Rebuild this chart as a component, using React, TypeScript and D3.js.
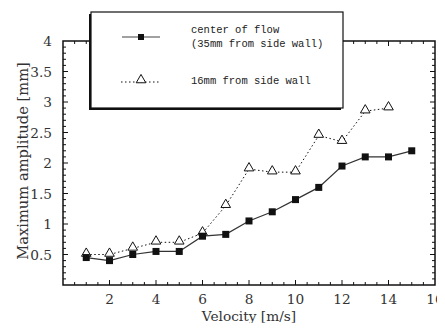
import React, { useEffect, useRef } from 'react';
import * as d3 from 'd3';

// velocity [m/s]
const velocityCenter = [1, 2, 3, 4, 5, 6, 7, 8, 9, 10, 11, 12, 13, 14, 15];
const ampCenter = [0.45, 0.4, 0.5, 0.55, 0.55, 0.8, 0.83, 1.05, 1.2, 1.4, 1.6, 1.95, 2.1, 2.1, 2.2];
const velocityWall = [1, 2, 3, 4, 5, 6, 7, 8, 9, 10, 11, 12, 13, 14];
const ampWall = [0.5, 0.5, 0.6, 0.7, 0.7, 0.85, 1.3, 1.9, 1.85, 1.85, 2.45, 2.35, 2.85, 2.9];

const xTicks = [2, 4, 6, 8, 10, 12, 14, 16];
const yTicks = [0.5, 1, 1.5, 2, 2.5, 3, 3.5, 4];
const legendLabels = ['center of flow', '(35mm from side wall)', '16mm from side wall'];

const App = () => {
  const svgRef = useRef(null);

  useEffect(() => {
    const svg = d3.select(svgRef.current);
    svg.selectAll('*').remove();

    const left = 63, right = 435, top = 41, bottom = 285;
    const x = d3.scaleLinear().domain([0, 16]).range([left, right]);
    const y = d3.scaleLinear().domain([0, 4]).range([bottom, top]);
    const serif = '"DejaVu Serif", "Liberation Serif", serif';
    const mono = '"Liberation Mono", "DejaVu Sans Mono", monospace';

    svg.append('rect').attr('width', 445).attr('height', 331).attr('fill', '#fff');

    // frame
    svg.append('rect')
      .attr('x', left).attr('y', top)
      .attr('width', right - left).attr('height', bottom - top)
      .attr('fill', 'none').attr('stroke', '#111').attr('stroke-width', 1.5);

    // ticks point inward on all four sides
    const g = svg.append('g').attr('stroke', '#111').attr('stroke-width', 1);
    d3.range(0.5, 16, 0.5).forEach(v => {
      const len = v % 2 === 0 ? 5 : 3;
      g.append('line').attr('x1', x(v)).attr('x2', x(v)).attr('y1', bottom).attr('y2', bottom - len);
      g.append('line').attr('x1', x(v)).attr('x2', x(v)).attr('y1', top).attr('y2', top + len);
    });
    d3.range(1, 40).forEach(i => {
      const v = i / 10;
      const len = i % 5 === 0 ? 5 : 3;
      g.append('line').attr('x1', left).attr('x2', left + len).attr('y1', y(v)).attr('y2', y(v));
      g.append('line').attr('x1', right).attr('x2', right - len).attr('y1', y(v)).attr('y2', y(v));
    });

    // tick labels
    svg.append('g').selectAll('text').data(xTicks).enter().append('text')
      .attr('x', d => x(d)).attr('y', 304)
      .attr('text-anchor', 'middle')
      .style('font-family', serif).style('font-size', '13.7px').attr('fill', '#333')
      .text(d => d);
    svg.append('g').selectAll('text').data(yTicks).enter().append('text')
      .attr('x', left - 11).attr('y', d => y(d) + 5)
      .attr('text-anchor', 'end')
      .style('font-family', serif).style('font-size', '13.7px').attr('fill', '#333')
      .text(d => d);

    // axis titles
    svg.append('text')
      .attr('x', 249).attr('y', 321)
      .attr('text-anchor', 'middle')
      .style('font-family', serif).style('font-size', '13.7px').attr('fill', '#333')
      .text('Velocity [m/s]');
    svg.append('text')
      .attr('transform', 'rotate(-90)')
      .attr('x', -161).attr('y', 28)
      .attr('text-anchor', 'middle')
      .style('font-family', serif).style('font-size', '14.7px').attr('fill', '#333')
      .text('Maximum amplitude [mm]');

    const line = d3.line<number>();
    const tri = d3.symbol().type(d3.symbolTriangle).size(40);

    // 16mm from side wall (dotted, open triangles)
    const wallPts = velocityWall.map((v, i) => [x(v), y(ampWall[i])] as [number, number]);
    svg.append('path')
      .attr('d', line(wallPts))
      .attr('fill', 'none').attr('stroke', '#111').attr('stroke-width', 1)
      .attr('stroke-dasharray', '1.5,2.5');

    // center of flow (solid, filled squares)
    const centerPts = velocityCenter.map((v, i) => [x(v), y(ampCenter[i])] as [number, number]);
    svg.append('path')
      .attr('d', line(centerPts))
      .attr('fill', 'none').attr('stroke', '#333').attr('stroke-width', 1.2);

    svg.append('g').selectAll('path').data(wallPts).enter().append('path')
      .attr('transform', d => `translate(${d[0]},${d[1] - 1})`)
      .attr('d', tri)
      .attr('fill', '#fff').attr('stroke', '#111').attr('stroke-width', 1);

    svg.append('g').selectAll('rect').data(centerPts).enter().append('rect')
      .attr('x', d => d[0] - 3.5).attr('y', d => d[1] - 3.5)
      .attr('width', 7).attr('height', 7)
      .attr('fill', '#111');

    // legend box with shadow on left/bottom
    const lx = 91, ly = 12, lw = 252, lh = 96;
    svg.append('rect').attr('x', lx - 2).attr('y', ly + 2).attr('width', lw).attr('height', lh).attr('fill', '#111');
    svg.append('rect').attr('x', lx).attr('y', ly).attr('width', lw).attr('height', lh)
      .attr('fill', '#fff').attr('stroke', '#111').attr('stroke-width', 1.2);

    svg.append('line').attr('x1', 122).attr('x2', 160).attr('y1', 37).attr('y2', 37)
      .attr('stroke', '#444').attr('stroke-width', 1.2);
    svg.append('rect').attr('x', 141 - 3).attr('y', 37 - 3).attr('width', 6).attr('height', 6).attr('fill', '#111');

    svg.append('line').attr('x1', 121).attr('x2', 160).attr('y1', 82).attr('y2', 82)
      .attr('stroke', '#111').attr('stroke-width', 1).attr('stroke-dasharray', '1.5,2.5');
    svg.append('path').attr('transform', 'translate(141,80)').attr('d', tri)
      .attr('fill', '#fff').attr('stroke', '#111').attr('stroke-width', 1);

    const legendY = [33, 47, 84];
    svg.append('g').selectAll('text').data(legendLabels).enter().append('text')
      .attr('x', 191).attr('y', (d, i) => legendY[i])
      .style('font-family', mono).style('font-size', '10.5px').attr('fill', '#222')
      .text(d => d);
  }, []);

  return (
    <div style={{ width: 445, height: 331, margin: -8 }}>
      <svg ref={svgRef} width={445} height={331} style={{ display: 'block' }}></svg>
    </div>
  );
};

export default App;
